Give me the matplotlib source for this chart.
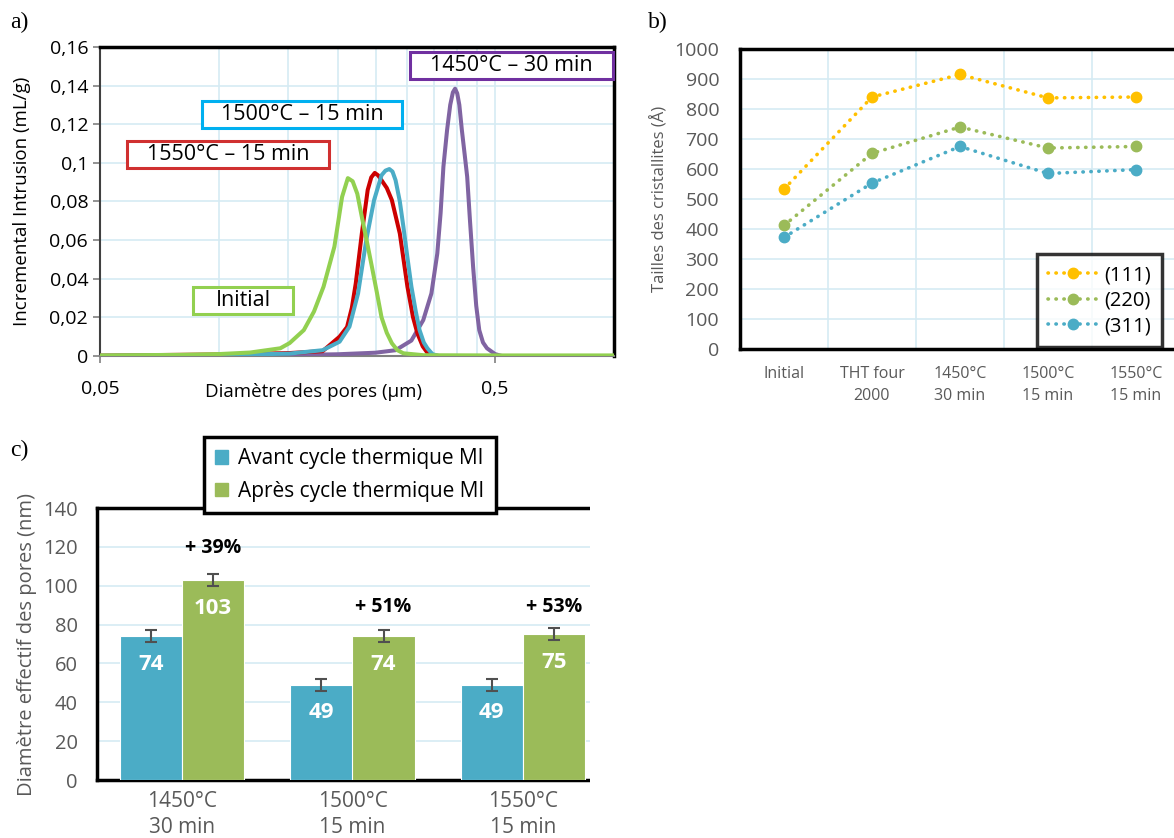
import matplotlib
matplotlib.use("Agg")
import matplotlib.pyplot as plt
from matplotlib.patches import Rectangle, Patch

plt.rcParams['font.family'] = ['Open Sans', 'DejaVu Sans']

# ---------- data ----------
# a) pore size distribution (diameter in µm, incremental intrusion mL/g)
d_initial = [0.05, 0.08, 0.10, 0.12, 0.143, 0.151, 0.164, 0.174, 0.184, 0.196, 0.205, 0.212, 0.218,
             0.224, 0.230, 0.237, 0.244, 0.251, 0.258, 0.266, 0.274, 0.283, 0.293, 0.33, 0.5, 1.0]
i_initial = [0.0003, 0.0006, 0.0010, 0.0018, 0.0040, 0.0067, 0.0134, 0.0230, 0.0359, 0.0566, 0.0824,
             0.0921, 0.0905, 0.0840, 0.0720, 0.0590, 0.0460, 0.0330, 0.0200, 0.0120, 0.0066, 0.0030,
             0.0014, 0.0004, 0.0003, 0.0003]

d_1550 = [0.05, 0.10, 0.15, 0.183, 0.202, 0.211, 0.217, 0.222, 0.230, 0.238, 0.243, 0.248, 0.253,
          0.258, 0.266, 0.274, 0.287, 0.300, 0.310, 0.318, 0.328, 0.337, 0.345, 0.36]
i_1550 = [0.0002, 0.0008, 0.0015, 0.0025, 0.0100, 0.0150, 0.0250, 0.0376, 0.0634, 0.0860, 0.0925,
          0.0948, 0.0935, 0.0910, 0.0870, 0.0807, 0.0634, 0.0359, 0.0200, 0.0117, 0.0050, 0.0017,
          0.0005, 0.0]

d_1500 = [0.05, 0.10, 0.15, 0.183, 0.202, 0.214, 0.225, 0.236, 0.247, 0.258, 0.264, 0.270, 0.275,
          0.280, 0.287, 0.293, 0.300, 0.307, 0.315, 0.322, 0.330, 0.337, 0.347, 0.36]
i_1500 = [0.0001, 0.0005, 0.0012, 0.0030, 0.0074, 0.0152, 0.0324, 0.0600, 0.0807, 0.0936, 0.0960,
          0.0968, 0.0955, 0.0910, 0.0800, 0.0670, 0.0510, 0.0360, 0.0230, 0.0134, 0.0070, 0.0040,
          0.0010, 0.0]

d_1450 = [0.05, 0.10, 0.15, 0.20, 0.249, 0.280, 0.307, 0.329, 0.345, 0.357, 0.364, 0.370, 0.378,
          0.385, 0.391, 0.396, 0.401, 0.406, 0.412, 0.419, 0.425, 0.432, 0.440, 0.448, 0.456, 0.466,
          0.477, 0.50, 0.52]
i_1450 = [0.0, 0.0002, 0.0005, 0.0009, 0.0017, 0.0030, 0.0080, 0.0186, 0.0324, 0.0530, 0.0740,
          0.0980, 0.1170, 0.1300, 0.1365, 0.1384, 0.1360, 0.1300, 0.1170, 0.1040, 0.0928, 0.0700,
          0.0460, 0.0260, 0.0134, 0.0070, 0.0040, 0.0010, 0.0]

# b) crystallite sizes
b_categories = ['Initial', 'THT four\n2000', '1450°C\n30 min', '1500°C\n15 min', '1550°C\n15 min']
size_111 = [533, 840, 915, 837, 840]
size_220 = [412, 652, 740, 670, 675]
size_311 = [372, 553, 675, 585, 598]

# c) effective pore diameter
c_categories = ['1450°C\n30 min', '1500°C\n15 min', '1550°C\n15 min']
avant = [74, 49, 49]
apres = [103, 74, 75]
err_avant = [3, 3, 3]
err_apres = [3, 3, 3]
gain_labels = ['+ 39%', '+ 51%', '+ 53%']
gain_y = [119.5, 89, 89]

# ---------- figure ----------
W, H = 1174, 838
fig = plt.figure(figsize=(W / 100, H / 100), dpi=100)


def px_rect(x0, y0, x1, y1):
    return [x0 / W, 1 - y1 / H, (x1 - x0) / W, (y1 - y0) / H]


GRID = '#d5ebf3'
GRAY = '#595959'
serif = ['Liberation Serif', 'DejaVu Serif']

# ---------- panel a ----------
ax = fig.add_axes(px_rect(100, 47, 614, 356))
ax.set_xscale('log')
ax.set_xlim(0.05, 1.0)
ax.set_ylim(0, 0.16)
ax.plot(d_1450, i_1450, color='#8064a2', lw=2.9, zorder=3, solid_capstyle='round')
ax.plot(d_1550, i_1550, color='#cc0000', lw=2.9, zorder=4, solid_capstyle='round')
ax.plot(d_1500, i_1500, color='#4bacc6', lw=2.9, zorder=5, solid_capstyle='round')
ax.plot(d_initial, i_initial, color='#92d050', lw=2.9, zorder=6, solid_capstyle='round')

ax.set_xticks([0.05, 0.5])
ax.set_xticklabels(['0,05', '0,5'])
ax.set_xticks([0.05 * k for k in range(2, 10)], minor=True)
ax.xaxis.set_minor_formatter(plt.NullFormatter())
yt = [0, 0.02, 0.04, 0.06, 0.08, 0.1, 0.12, 0.14, 0.16]
ax.set_yticks(yt)
ax.set_yticklabels([('%g' % v).replace('.', ',') for v in yt])
ax.grid(True, which='both', color=GRID, lw=1.2)
ax.set_axisbelow(True)
ax.tick_params(axis='x', which='major', length=5, width=1.2, color='#808080', pad=12, labelsize=14)
ax.tick_params(axis='x', which='minor', length=0)
ax.tick_params(axis='y', length=5, width=1.2, color='#808080', labelsize=14)
for s in ['top', 'right']:
    ax.spines[s].set_color('black')
    ax.spines[s].set_linewidth(2.5)
ax.spines['left'].set_color('#404040')
ax.spines['left'].set_linewidth(1.5)
ax.spines['bottom'].set_color('#808080')
ax.spines['bottom'].set_linewidth(1.5)
ax.set_xlabel('Diamètre des pores (µm)', fontsize=13.5)
ax.xaxis.set_label_coords((314 - 100) / 514, -(392 - 356) / 309)
ax.xaxis.label.set_va('center')
ax.set_ylabel('Incremental Intrusion (mL/g)', fontsize=13.5)
ax.yaxis.set_label_coords(-(100 - 22) / 514, 0.5)
ax.yaxis.label.set_va('center')

boxes = [((410, 52, 613, 79), '1450°C – 30 min', '#7030a0'),
         ((202, 101, 402, 128), '1500°C – 15 min', '#00b0f0'),
         ((127, 141, 329, 168), '1550°C – 15 min', '#d03030'),
         ((193, 287, 293, 314), 'Initial', '#92d050')]
for (x0, y0, x1, y1), txt, col in boxes:
    r = px_rect(x0, y0, x1, y1)
    fig.add_artist(Rectangle((r[0], r[1]), r[2], r[3], transform=fig.transFigure,
                             facecolor='white', edgecolor=col, lw=2.2, zorder=10))
    fig.text(r[0] + r[2] / 2, r[1] + r[3] / 2, txt, ha='center', va='center', fontsize=15.5, zorder=11)

fig.text(10 / W, 1 - 22 / H, 'a)', family=serif, fontsize=17, va='center')

# ---------- panel b ----------
bx = fig.add_axes(px_rect(740, 49, 1180, 349))
xb = list(range(len(b_categories)))
series_b = [(size_111, '#ffc000', '(111)'), (size_220, '#9bbb59', '(220)'), (size_311, '#4bacc6', '(311)')]
for vals, col, lab in series_b:
    bx.plot(xb, vals, color=col, lw=2.6, linestyle=(0, (0.1, 2.1)), dash_capstyle='round',
            marker='o', markersize=7.5, label=lab, zorder=3)
bx.set_xlim(-0.5, 4.5)
bx.set_ylim(0, 1000)
bx.set_yticks(range(0, 1001, 100))
bx.set_xticks(xb)
bx.set_xticklabels(b_categories, fontsize=11.5, color=GRAY, linespacing=1.5)
bx.set_xticks([0.5, 1.5, 2.5, 3.5], minor=True)
bx.tick_params(axis='x', which='both', length=0, pad=12)
bx.tick_params(axis='y', length=0, labelsize=14, labelcolor=GRAY, pad=15)
bx.grid(True, axis='y', color=GRID, lw=1.2)
bx.grid(True, axis='x', which='minor', color=GRID, lw=1.2)
bx.set_axisbelow(True)
for s in bx.spines.values():
    s.set_color('black')
    s.set_linewidth(2.5)
bx.set_ylabel('Tailles des cristallites (Å)', fontsize=12, color=GRAY)
bx.yaxis.set_label_coords(-(740 - 660) / 440, 0.5)
bx.yaxis.label.set_va('center')
leg = bx.legend(loc='upper left', bbox_to_anchor=(1037 / W, 1 - 254 / H),
                bbox_transform=fig.transFigure, fontsize=14.5, frameon=True, fancybox=False,
                handlelength=2.5, borderpad=0.55, labelspacing=0.28, handletextpad=0.3,
                borderaxespad=0)
leg.get_frame().set_edgecolor('black')
leg.get_frame().set_linewidth(2.5)

fig.text(648 / W, 1 - 22 / H, 'b)', family=serif, fontsize=17, va='center')

# ---------- panel c ----------
cx = fig.add_axes(px_rect(97, 508, 608, 780))
xc = list(range(len(c_categories)))
bw = 0.364
cx.bar([x - bw / 2 for x in xc], avant, width=bw, color='#4bacc6', edgecolor='white', lw=0.8,
       yerr=err_avant, ecolor='#505050', capsize=4, error_kw=dict(lw=1.5, capthick=1.5),
       label='Avant cycle thermique MI', zorder=3)
cx.bar([x + bw / 2 for x in xc], apres, width=bw, color='#9bbb59', edgecolor='white', lw=0.8,
       yerr=err_apres, ecolor='#505050', capsize=4, error_kw=dict(lw=1.5, capthick=1.5),
       label='Après cycle thermique MI', zorder=3)
for x, v in zip(xc, avant):
    cx.text(x - bw / 2, v - 14.5, str(v), ha='center', va='center', color='white',
            fontsize=16, fontweight='bold', zorder=5)
for x, v in zip(xc, apres):
    cx.text(x + bw / 2, v - 14.5, str(v), ha='center', va='center', color='white',
            fontsize=16, fontweight='bold', zorder=5)
for x, lab, y in zip(xc, gain_labels, gain_y):
    cx.text(x + bw / 2, y, lab, ha='center', va='center', fontsize=14, fontweight='bold', zorder=5)
cx.set_xlim(-0.5, 2.5)
cx.set_ylim(0, 140)
cx.set_yticks(range(0, 141, 20))
cx.set_xticks(xc)
cx.set_xticklabels(c_categories, fontsize=15, color=GRAY, linespacing=1.3)
cx.tick_params(axis='x', length=0, pad=8)
cx.tick_params(axis='y', length=0, labelsize=14.5, labelcolor=GRAY, pad=14)
cx.grid(True, axis='y', color=GRID, lw=1.2)
cx.set_axisbelow(True)
for s in cx.spines.values():
    s.set_color('black')
    s.set_linewidth(2.5)
cx.spines['right'].set_visible(False)
cx.set_ylabel('Diamètre effectif des pores (nm)', fontsize=14.5, color=GRAY)
cx.yaxis.set_label_coords(-(97 - 27) / 511, 0.5)
cx.yaxis.label.set_va('center')
leg2 = fig.legend(handles=[Patch(color='#4bacc6', label='Avant cycle thermique MI'),
                           Patch(color='#9bbb59', label='Après cycle thermique MI')],
                  loc='upper left', bbox_to_anchor=(204 / W, 1 - 437 / H), fontsize=15,
                  frameon=True, fancybox=False, framealpha=1, handlelength=0.6, handleheight=0.6,
                  handletextpad=0.5, borderpad=0.55, labelspacing=0.55, borderaxespad=0)
leg2.get_frame().set_edgecolor('black')
leg2.get_frame().set_linewidth(2.5)
leg2.set_zorder(20)

# the source picture is cropped just right of panel c
r = px_rect(590, 420, W, H)
fig.add_artist(Rectangle((r[0], r[1]), r[2], r[3], transform=fig.transFigure,
                         facecolor='white', edgecolor='none', zorder=30))

fig.text(10 / W, 1 - 450 / H, 'c)', family=serif, fontsize=17, va='center')

fig.savefig('out.png', dpi=100)
